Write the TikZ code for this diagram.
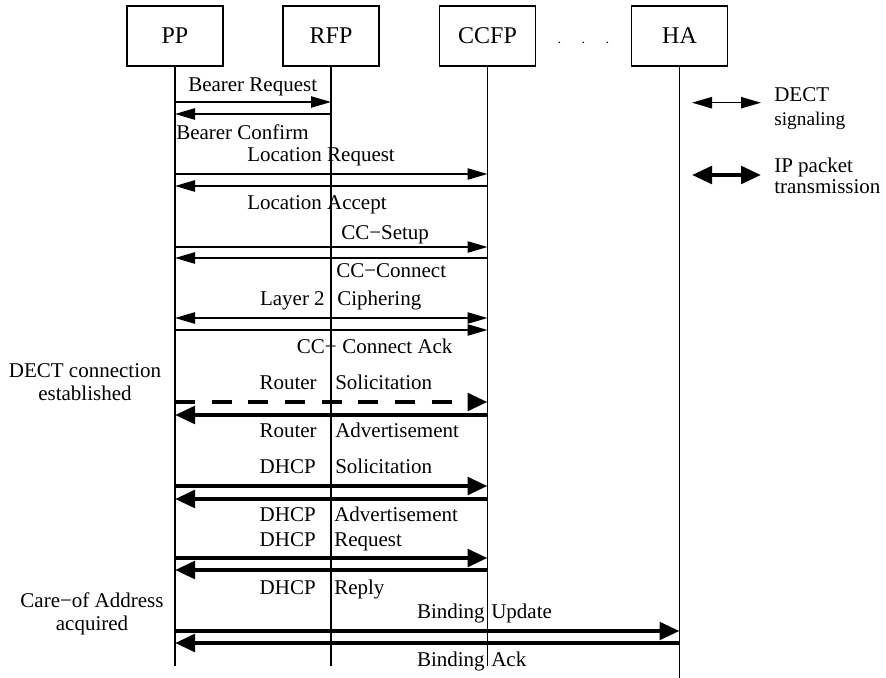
\documentclass[tikz,border=0pt]{standalone}
\usepackage{fontspec}
\setmainfont{Liberation Serif}
\usetikzlibrary{arrows.meta}
\begin{document}
\begin{tikzpicture}[x=0.75pt,y=-0.75pt,
  every node/.style={font=\fontsize{15.75}{19}\selectfont, inner sep=0pt},
  entity/.style={draw, line width=0.8pt, minimum width=72pt, minimum height=45pt,
    font=\fontsize{18}{21}\selectfont},
  life/.style={line width=0.8pt},
  sigtip/.tip={Triangle[length=15pt,width=8.5pt]},
  iptip/.tip={Triangle[length=15pt,width=13pt]},
  sig/.style={line width=1pt, -sigtip},
  sigboth/.style={line width=1pt, sigtip-sigtip},
  ip/.style={line width=3.2pt, -iptip},
  ipboth/.style={line width=3.2pt, iptip-iptip},
  ipdash/.style={ip, dash pattern=on 15pt off 12.5pt},
  lbl/.style={anchor=base west},
  lblr/.style={anchor=base east},
  note/.style={anchor=base},
  small/.style={font=\fontsize{14.5}{17}\selectfont},
]
\useasboundingbox (0,0) rectangle (886,678);

% entities
\node[entity] (pp)   at (175,36)   {PP};
\node[entity] (rfp)  at (331,36)   {RFP};
\node[entity] (ccfp) at (487.5,36) {CCFP};
\node[entity] (ha)   at (679.5,36) {HA};
\node[anchor=base, font=\fontsize{10}{12}\selectfont] (dots) at (583.5,43.5)
  {.\hspace{15.5pt}.\hspace{15.5pt}.};

% lifelines
\coordinate (ppend)   at (pp |- 0,666);
\coordinate (rfpend)  at (rfp |- 0,666);
\coordinate (ccfpend) at (ccfp |- 0,666);
\coordinate (haend)   at (ha |- 0,678);
\draw[life] (pp) -- (ppend);
\draw[life] (rfp) -- (rfpend);
\draw[life] (ccfp) -- (ccfpend);
\draw[life] (ha) -- (haend);

% DECT signalling
\draw[sig] (pp |- 0,102) -- (rfp |- 0,102);
\draw[sig] (rfp |- 0,114) -- (pp |- 0,114);
\draw[sig] (pp |- 0,174) -- (ccfp |- 0,174);
\draw[sig] (ccfp |- 0,186) -- (pp |- 0,186);
\draw[sig] (pp |- 0,247) -- (ccfp |- 0,247);
\draw[sig] (ccfp |- 0,258) -- (pp |- 0,258);
\draw[sigboth] (pp |- 0,318) -- (ccfp |- 0,318);
\draw[sig] (pp |- 0,330) -- (ccfp |- 0,330);

% IP packets
\draw[ipdash] (pp |- 0,402) -- (ccfp |- 0,402);
\draw[ip] (ccfp |- 0,415) -- (pp |- 0,415);
\draw[ip] (pp |- 0,486) -- (ccfp |- 0,486);
\draw[ip] (ccfp |- 0,499) -- (pp |- 0,499);
\draw[ip] (pp |- 0,558) -- (ccfp |- 0,558);
\draw[ip] (ccfp |- 0,570) -- (pp |- 0,570);
\draw[ip] (pp |- 0,631) -- (ha |- 0,631);
\draw[ip] (ha |- 0,643) -- (pp |- 0,643);

% message labels
\node[lbl] (m1) at (188,91) {Bearer Request};
\node[lbl] (m2) at (176,139.5) {Bearer Confirm};
\node[lbl] (m3) at (247,161.7) {Location Request};
\node[lbl] (m4) at (247,209.5) {Location Accept};
\node[lbl] (m5) at (341,239.5) {CC−Setup};
\node[lbl] (m6) at (336,277.5) {CC−Connect};
\node[lblr] (m7a) at (325,305.5) {Layer 2};
\node[lbl]  (m7b) at (337,305.5) {Ciphering};
\node[lblr] (m8a) at (337,353.5) {CC−};
\node[lbl]  (m8b) at (342,353.5) {Connect Ack};
\node[lblr] (m9a) at (317,389.5) {Router};
\node[lbl]  (m9b) at (335,389.5) {Solicitation};
\node[lblr] (m10a) at (317,437.5) {Router};
\node[lbl]  (m10b) at (335,437.5) {Advertisement};
\node[lblr] (m11a) at (316,473.5) {DHCP};
\node[lbl]  (m11b) at (335,473.5) {Solicitation};
\node[lblr] (m12a) at (316,521.5) {DHCP};
\node[lbl]  (m12b) at (334,521.5) {Advertisement};
\node[lblr] (m13a) at (316,546.5) {DHCP};
\node[lbl]  (m13b) at (334,546.5) {Request};
\node[lblr] (m14a) at (316,594.5) {DHCP};
\node[lbl]  (m14b) at (334,594.5) {Reply};
\node[lblr] (m15a) at (485,618.5) {Binding};
\node[lbl]  (m15b) at (491,618.5) {Update};
\node[lblr] (m16a) at (485,666) {Binding};
\node[lbl]  (m16b) at (491,666) {Ack};

% phase notes
\node[note] (n1a) at (85,377.7) {DECT connection};
\node[note] (n1b) at (85,400) {established};
\node[note] (n2a) at (92,607.7) {Care−of Address};
\node[note] (n2b) at (92,630) {acquired};

% legend
\coordinate (lg1a) at (692,102.7);
\coordinate (lg1b) at (761,102.7);
\coordinate (lg2a) at (692,175);
\coordinate (lg2b) at (761,175);
\draw[sigboth] (lg1a) -- (lg1b);
\draw[ipboth] (lg2a) -- (lg2b);
\node[lbl] (lt1) at (774,101.7) {DECT};
\node[lbl, small] (lt2) at (774,125) {signaling};
\node[lbl] (lt3) at (774,172.7) {IP packet};
\node[lbl] (lt4) at (774,193.5) {transmission};
\end{tikzpicture}
\end{document}
